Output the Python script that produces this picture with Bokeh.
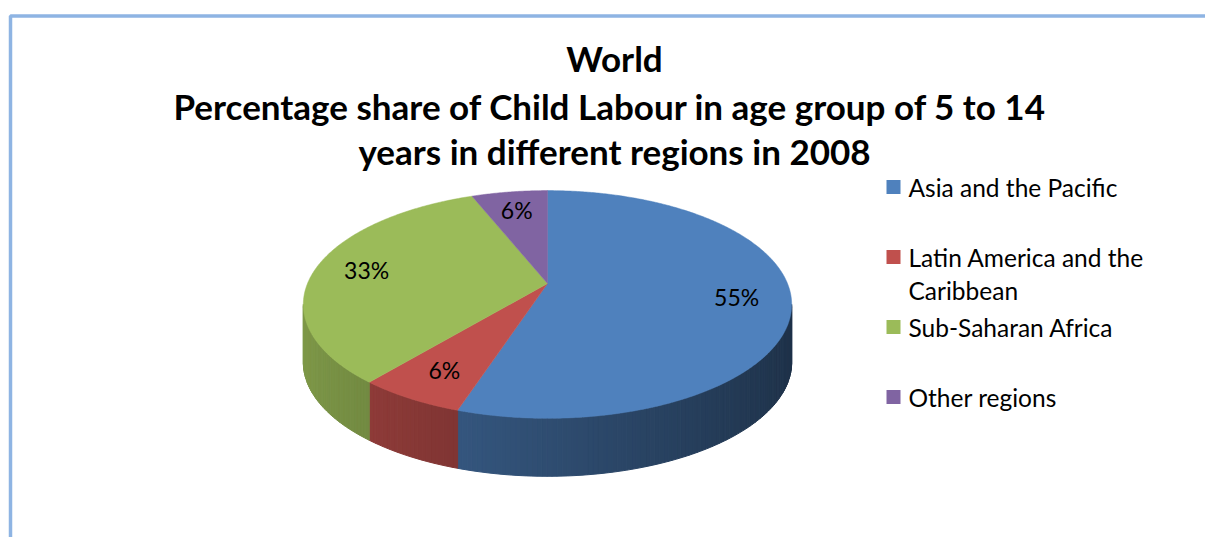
import math
import textwrap
from bokeh.plotting import figure
from bokeh.models import Range1d
from bokeh.core.properties import value
from bokeh.embed import file_html
from bokeh.resources import INLINE

# ---------------- data ----------------
categories = ["Asia and the Pacific", "Latin America and the Caribbean",
              "Sub-Saharan Africa", "Other regions"]
shares = [55, 6, 33, 6]
colors = ["#4F81BD", "#C0504D", "#9BBB59", "#8064A2"]
title_lines = ["World",
               "Percentage  share of Child Labour in age group of 5 to 14",
               "years in different regions in 2008"]

# ---------------- layout ----------------
W, H = 1205, 537
p = figure(width=W, height=H, x_range=Range1d(0, W), y_range=Range1d(H, 0),
           output_backend="svg", toolbar_location=None, min_border=0,
           x_axis_type=None, y_axis_type=None)
p.grid.visible = False
p.outline_line_color = None
p.background_fill_color = "white"
p.border_fill_color = "white"

# frame border (light blue, top and left visible)
p.quad(left=[10], right=[1400], top=[15.5], bottom=[800], fill_alpha=0,
       line_color="#8EB4E3", line_width=3.5)

# pie projection (3D pie with perspective)
CX, CY = 547, 283
RX, RY = 240, 110
PA = 0.184
DEPTH = 58


def proj(f, theta):
    t = math.radians(theta)
    u, v = math.sin(t), math.cos(t)
    k = 1.0 / (1.0 + PA * f * v)
    return CX + RX * f * u * k, CY - RY * f * v * k


def shade(hexcol, fac):
    r, g, b = (int(hexcol[i:i + 2], 16) for i in (1, 3, 5))
    return "#%02x%02x%02x" % tuple(max(0, min(255, int(c * fac))) for c in (r, g, b))


total = float(sum(shares))
bounds = [0.0]
for s in shares:
    bounds.append(bounds[-1] + s / total * 360.0)

vis_lo = 90 + math.degrees(math.asin(PA))
vis_hi = 270 - math.degrees(math.asin(PA))

# sides
sx, sy, sc = [], [], []
for i, col in enumerate(colors):
    a0, a1 = max(bounds[i], vis_lo), min(bounds[i + 1], vis_hi)
    if a1 <= a0:
        continue
    n = max(1, int(math.ceil((a1 - a0) / 1.0)))
    for j in range(n):
        t0 = a0 + (a1 - a0) * j / n
        t1 = a0 + (a1 - a0) * (j + 1) / n
        x0, y0 = proj(1, t0)
        x1, y1 = proj(1, t1)
        sx.append([x0, x1, x1, x0])
        sy.append([y0, y1, y1 + DEPTH, y0 + DEPTH])
        um = math.sin(math.radians((t0 + t1) / 2))
        sc.append(shade(col, 0.6 - 0.22 * um))
p.patches(xs=sx, ys=sy, fill_color=sc, line_color=sc, line_width=1)

# top faces
tx, ty = [], []
for i in range(len(shares)):
    a0, a1 = bounds[i], bounds[i + 1]
    n = max(2, int((a1 - a0) / 0.5))
    xs, ys = [CX], [CY]
    for j in range(n + 1):
        x, y = proj(1, a0 + (a1 - a0) * j / n)
        xs.append(x)
        ys.append(y)
    tx.append(xs)
    ty.append(ys)
p.patches(xs=tx, ys=ty, fill_color=colors, line_color=colors, line_width=0.5)

# data labels
lx, ly, lt = [], [], []
for i, s in enumerate(shares):
    x, y = proj(0.78, (bounds[i] + bounds[i + 1]) / 2)
    lx.append(x)
    ly.append(y)
    lt.append(f"{s}%")
p.text(x=lx, y=ly, text=lt, text_align="center", text_baseline="middle",
       text_font=value("Lato"), text_font_size="23px", text_color="black")

# title
p.text(x=[614] * 3, y=[57, 105, 150], text=title_lines, text_align="center",
       text_baseline="middle", text_font=value("Lato"), text_font_style="bold",
       text_font_size="35px", text_color="black")

# legend
LX, LY0, LDY, LLINE = 893, 186.5, 70, 33
p.scatter(x=[LX] * len(categories), y=[LY0 + LDY * i for i in range(len(categories))],
          marker="square", size=14, fill_color=colors, line_color=None)
gx, gy, gt = [], [], []
for i, c in enumerate(categories):
    for j, line in enumerate(textwrap.wrap(c, 21)):
        gx.append(LX + 15)
        gy.append(LY0 + LDY * i + LLINE * j)
        gt.append(line)
p.text(x=gx, y=gy, text=gt, text_align="left", text_baseline="middle",
       text_font=value("Lato"), text_font_size="24.5px", text_color="black")

open("out.html", "w").write(file_html(p, INLINE))
